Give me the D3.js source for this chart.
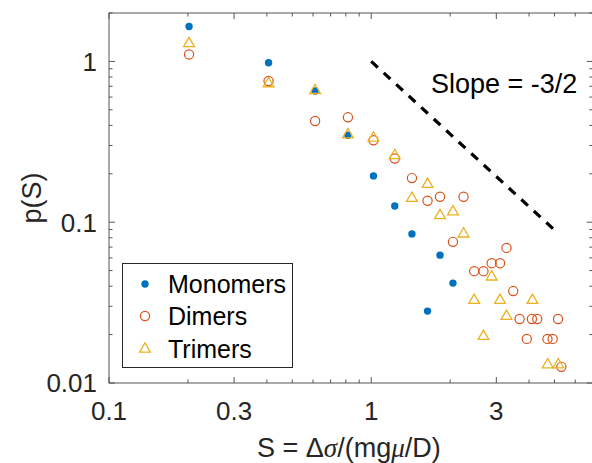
<!DOCTYPE html>
<html>
<head>
<meta charset="utf-8">
<script src="https://cdn.jsdelivr.net/npm/d3@7"></script>
<style>
  body { margin: 0; background: #fff; }
  text { font-family: "Liberation Sans", Arial, Helvetica, sans-serif; fill: #262626; }
</style>
</head>
<body>
<div id="container"></div>
<script>
/* DATA */
const monoS = [0.202, 0.406, 0.611, 0.815, 1.02, 1.23, 1.43, 1.83, 2.05, 1.64]
const monoP = [1.65, 0.98, 0.654, 0.347, 0.194, 0.126, 0.0846, 0.0624, 0.0418, 0.028]

const dimS = [0.202, 0.406, 0.611, 0.815, 1.02, 1.23, 1.43, 1.64, 1.83, 2.25, 2.05, 3.28,
  2.47, 2.68, 2.88, 3.10, 3.48, 3.68, 4.10, 4.30, 5.16, 3.92, 4.70, 4.92, 5.31]
const dimP = [1.105, 0.755, 0.426, 0.449, 0.323, 0.249, 0.188, 0.136, 0.144, 0.144, 0.0755, 0.0692,
  0.0496, 0.0496, 0.0556, 0.0556, 0.0373, 0.025, 0.025, 0.025, 0.025, 0.0188, 0.0188, 0.0188, 0.0126]

const triS = [0.202, 0.406, 0.611, 0.815, 1.02, 1.23, 1.64, 1.43, 1.83, 2.05, 2.25, 2.88,
  2.47, 3.10, 4.12, 3.28, 2.68, 4.71, 5.17]
const triP = [1.29, 0.727, 0.66, 0.35, 0.334, 0.26, 0.172, 0.141, 0.11, 0.116, 0.0846, 0.0457,
  0.0327, 0.0327, 0.0327, 0.026, 0.0195, 0.013, 0.013]

const slopeS = [1, 5]
const slopeP = [1, 0.0894]

const xMajor = [0.1, 0.3, 1, 3]
const xMinor = [0.2, 0.4, 0.5, 0.6, 0.7, 0.8, 0.9, 2, 4, 5, 6, 7]
const yMajor = [0.01, 0.1, 1]
const yMinor = [0.02, 0.03, 0.04, 0.05, 0.06, 0.07, 0.08, 0.09,
  0.2, 0.3, 0.4, 0.5, 0.6, 0.7, 0.8, 0.9, 2]

const seriesNames = ["Monomers", "Dimers", "Trimers"]

/* CONSTANTS */
const width = 592, height = 463
const margin = { top: 13, bottom: 383, left: 109, right: 592.8 }
const blue = "#0072BD", orange = "#D95319", yellow = "#EDB120"

/* SCALES */
const xScale = d3.scaleLog().domain([0.1, 7]).range([margin.left, margin.right])
const yScale = d3.scaleLog().domain([0.01, 2]).range([margin.bottom, margin.top])

const svg = d3.select("#container").append("svg")
  .attr("width", width)
  .attr("height", height)

/* AXES BOX AND TICKS */
const axisColor = "#555"
svg.append("rect")
  .attr("x", margin.left)
  .attr("y", margin.top)
  .attr("width", margin.right - margin.left)
  .attr("height", margin.bottom - margin.top)
  .attr("fill", "none")
  .attr("stroke", axisColor)
  .attr("stroke-width", 1)

const ticks = svg.append("g").attr("stroke", axisColor).attr("stroke-width", 1)
const xTicks = xMajor.map(v => ({ v, len: 6 })).concat(xMinor.map(v => ({ v, len: 3.5 })))
xTicks.forEach(t => {
  const x = xScale(t.v)
  ticks.append("line").attr("x1", x).attr("x2", x).attr("y1", margin.bottom).attr("y2", margin.bottom - t.len)
  ticks.append("line").attr("x1", x).attr("x2", x).attr("y1", margin.top).attr("y2", margin.top + t.len)
})
const yTicks = yMajor.map(v => ({ v, len: 6 })).concat(yMinor.map(v => ({ v, len: 3.5 })))
yTicks.forEach(t => {
  const y = yScale(t.v)
  ticks.append("line").attr("x1", margin.left).attr("x2", margin.left + t.len).attr("y1", y).attr("y2", y)
  ticks.append("line").attr("x1", margin.right).attr("x2", margin.right - t.len).attr("y1", y).attr("y2", y)
})

// tick labels
svg.selectAll(".xlab").data(xMajor).join("text")
  .attr("class", "xlab")
  .attr("x", d => xScale(d))
  .attr("y", 420)
  .attr("text-anchor", "middle")
  .attr("font-size", 26)
  .text(d => d3.format("~g")(d))

svg.selectAll(".ylab").data(yMajor).join("text")
  .attr("class", "ylab")
  .attr("x", 97)
  .attr("y", d => yScale(d))
  .attr("dy", "0.36em")
  .attr("text-anchor", "end")
  .attr("font-size", 26)
  .text(d => d3.format("~g")(d))

// axis titles (greek letters in TeX-like italic serif)
const xTitle = svg.append("text")
  .attr("x", (margin.left + margin.right) / 2 - 2)
  .attr("y", 457)
  .attr("text-anchor", "middle")
  .attr("font-size", 27)
const greek = { "σ": true, "μ": true }
;["S = Δ", "σ", "/(mg", "μ", "/D)"].forEach(part => {
  const ts = xTitle.append("tspan").text(part)
  if (greek[part]) {
    ts.style("font-family", "'Liberation Serif', 'DejaVu Serif', serif").style("font-style", "italic")
  }
})

svg.append("text")
  .attr("transform", `translate(41, ${(margin.top + margin.bottom) / 2}) rotate(-90)`)
  .attr("text-anchor", "middle")
  .attr("font-size", 27)
  .text("p(S)")

/* SLOPE LINE */
svg.append("path")
  .datum(slopeS.map((s, i) => [s, slopeP[i]]))
  .attr("d", d3.line().x(d => xScale(d[0])).y(d => yScale(d[1])))
  .attr("fill", "none")
  .attr("stroke", "#000")
  .attr("stroke-width", 3.2)
  .attr("stroke-dasharray", "9,8")

svg.append("text")
  .attr("x", 431)
  .attr("y", 93)
  .attr("font-size", 27)
  .style("fill", "#000")
  .text("Slope = -3/2")

/* MARKERS */
const tri = d3.symbol().type(d3.symbolTriangle).size(50)

svg.selectAll(".mono").data(monoS.map((s, i) => [s, monoP[i]])).join("circle")
  .attr("class", "mono")
  .attr("cx", d => xScale(d[0]))
  .attr("cy", d => yScale(d[1]))
  .attr("r", 3.7)
  .attr("fill", blue)

svg.selectAll(".dim").data(dimS.map((s, i) => [s, dimP[i]])).join("circle")
  .attr("class", "dim")
  .attr("cx", d => xScale(d[0]))
  .attr("cy", d => yScale(d[1]))
  .attr("r", 4.6)
  .attr("fill", "none")
  .attr("stroke", orange)
  .attr("stroke-width", 1.2)

svg.selectAll(".tri").data(triS.map((s, i) => [s, triP[i]])).join("path")
  .attr("class", "tri")
  .attr("d", tri)
  .attr("transform", d => `translate(${xScale(d[0])}, ${yScale(d[1])})`)
  .attr("fill", "none")
  .attr("stroke", yellow)
  .attr("stroke-width", 1.3)

/* LEGEND */
const legend = svg.append("g")
legend.append("rect")
  .attr("x", 122.5).attr("y", 263.5)
  .attr("width", 170).attr("height", 104)
  .attr("fill", "#fff")
  .attr("stroke", "#262626")
  .attr("stroke-width", 1)

const rowY = [284, 316, 349]
seriesNames.forEach((name, i) => {
  if (i === 0) {
    legend.append("circle").attr("cx", 145).attr("cy", rowY[i]).attr("r", 3.7).attr("fill", blue)
  } else if (i === 1) {
    legend.append("circle").attr("cx", 145).attr("cy", rowY[i]).attr("r", 4.6)
      .attr("fill", "none").attr("stroke", orange).attr("stroke-width", 1.2)
  } else {
    legend.append("path").attr("d", tri).attr("transform", `translate(145, ${rowY[i]})`)
      .attr("fill", "none").attr("stroke", yellow).attr("stroke-width", 1.3)
  }
  legend.append("text")
    .attr("x", 168)
    .attr("y", rowY[i])
    .attr("dy", "0.36em")
    .attr("font-size", 25)
    .style("fill", "#000")
    .text(name)
})
</script>
</body>
</html>
